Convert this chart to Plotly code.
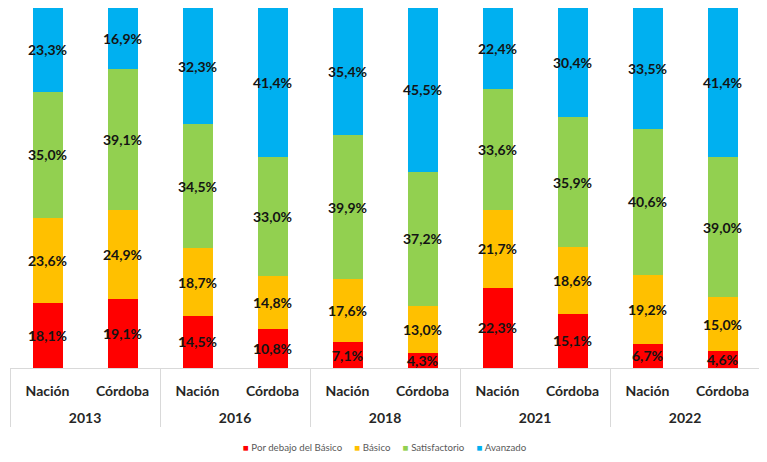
import plotly.graph_objects as go

years = ["2013", "2013", "2016", "2016", "2018", "2018", "2021", "2021", "2022", "2022"]
regions = ["Nación", "Córdoba"] * 5

series_names = ["Por debajo del Básico", "Básico", "Satisfactorio", "Avanzado"]
por_debajo = [18.1, 19.1, 14.5, 10.8, 7.1, 4.3, 22.3, 15.1, 6.7, 4.6]
basico = [23.6, 24.9, 18.7, 14.8, 17.6, 13.0, 21.7, 18.6, 19.2, 15.0]
satisfactorio = [35.0, 39.1, 34.5, 33.0, 39.9, 37.2, 33.6, 35.9, 40.6, 39.0]
avanzado = [23.3, 16.9, 32.3, 41.4, 35.4, 45.5, 22.4, 30.4, 33.5, 41.4]

colors = ["#FF0000", "#FFC000", "#92D050", "#00B0F0"]

# year labels get a leading line break so the second row sits lower, as in the reference
year_labels = ["<br>" + y for y in years]

fig = go.Figure()
for name, vals, col in zip(series_names, [por_debajo, basico, satisfactorio, avanzado], colors):
    fig.add_trace(go.Bar(
        x=[year_labels, regions],
        y=vals,
        name=name,
        marker=dict(color=col, line=dict(width=0)),
        width=0.4,
        text=[f"{v:.1f}%".replace(".", ",") for v in vals],
        textposition="inside",
        insidetextanchor="middle",
        textangle=0,
        textfont=dict(family="Lato", size=14, color="#141414", weight="bold"),
        hoverinfo="skip",
        showlegend=False,
    ))

legend_text = "&nbsp;&nbsp;&nbsp;&nbsp;&nbsp;".join(
    f"<span style='color:{c}'>■</span>&nbsp;{n}" for n, c in zip(series_names, colors)
)

fig.update_layout(
    barmode="stack",
    width=759, height=454,
    margin=dict(l=2, r=7, t=0, b=94, autoexpand=False),
    paper_bgcolor="white",
    plot_bgcolor="white",
    uniformtext=dict(minsize=14, mode="show"),
    showlegend=False,
    xaxis=dict(
        type="multicategory",
        automargin=False,
        showline=True, linecolor="#d9d9d9", linewidth=1,
        showdividers=True, dividercolor="#d9d9d9", dividerwidth=1,
        ticks="", showgrid=False,
        ticklabelstandoff=10,
        tickfont=dict(family="Lato", size=14, color="#262626", weight="bold"),
    ),
    yaxis=dict(range=[0, 100], visible=False, showgrid=False, automargin=False),
    annotations=[dict(
        text=legend_text, xref="paper", yref="paper", x=0.5, y=-0.219,
        xanchor="center", yanchor="middle", showarrow=False,
        font=dict(family="Lato", size=9.7, color="#595959"),
    )],
)

fig.write_html("out.html")
